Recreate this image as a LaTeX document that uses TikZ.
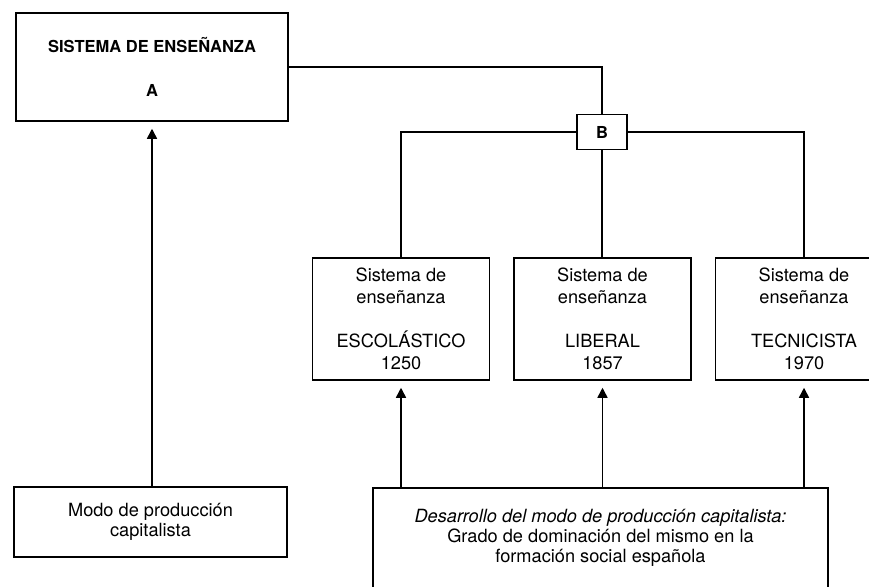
\documentclass[tikz,border=0pt]{standalone}
\usepackage{fontspec}
\setmainfont{TeX Gyre Heros}
\usetikzlibrary{arrows.meta,positioning}

\begin{document}
\begin{tikzpicture}[x=1pt,y=-1pt,line width=1.5pt,>={Triangle[length=10pt,width=10pt]},
  every node/.style={font=\fontsize{18.2}{22}\selectfont,align=center},
  caja/.style={draw,inner sep=0pt,minimum height=122pt,minimum width=177pt},
  titulo/.style={font=\bfseries\fontsize{16.5}{22}\selectfont}]
  \useasboundingbox (0,0) rectangle (869,586);
  \node[draw,titulo,minimum width=272pt,minimum height=108pt] (A) at (152,67) {SISTEMA DE ENSEÑANZA\\[22pt]A};
  \node[draw,titulo,inner sep=0pt,minimum width=50pt,minimum height=35pt] (B) at (602,132) {B};
  \node[caja] (esc) at (401,319) {Sistema de\\enseñanza\\[22pt]ESCOLÁSTICO\\1250};
  \node[caja,right=23pt of esc] (lib) {Sistema de\\enseñanza\\[22pt]LIBERAL\\1857};
  \node[caja,right=23pt of lib] (tec) {Sistema de\\enseñanza\\[22pt]TECNICISTA\\1970};
  \node[draw,minimum width=273pt,minimum height=70pt,font=\fontsize{18.2}{20}\selectfont] (modo) at (150.5,522) {Modo de producción\\capitalista};
  \node[draw,minimum width=455pt,minimum height=100pt,font=\fontsize{18.2}{20}\selectfont] (des) at (600.5,538) {\textit{Desarrollo del modo de producción capitalista:}\\Grado de dominación del mismo en la\\formación social española};
  \draw (A.east) -| (B.north);
  \draw (B.west) -| (esc.north);
  \draw (B.east) -| (tec.north);
  \draw (B.south) -- (B.south |- lib.north);
  \draw[->,shorten >=7pt] (A.south |- modo.north) -- (A.south);
  \foreach \c in {esc,lib,tec}
    \draw[->,shorten >=7pt] (\c.south |- des.north) -- (\c.south);
\end{tikzpicture}
\end{document}
